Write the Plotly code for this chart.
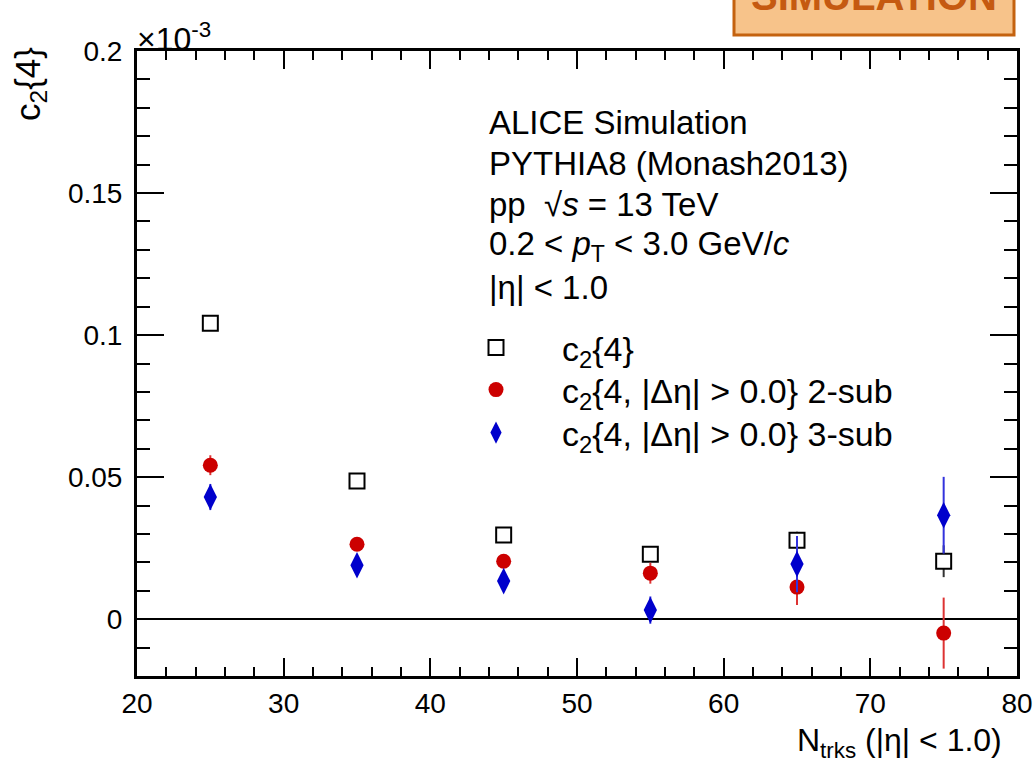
import plotly.graph_objects as go

ntrk = [25, 35, 45, 55, 65, 75]
c24 = [0.1042, 0.0486, 0.0296, 0.0229, 0.0278, 0.0204]
c24_err = [0.0010, 0.0010, 0.0010, 0.0012, 0.0030, 0.0056]
c24_2sub = [0.0542, 0.0264, 0.0204, 0.0162, 0.0113, -0.0049]
c24_2sub_err = [0.0035, 0.0012, 0.0020, 0.0037, 0.0063, 0.0125]
c24_3sub = [0.0430, 0.0190, 0.0134, 0.0032, 0.0194, 0.0366]
c24_3sub_err = [0.0046, 0.0022, 0.0030, 0.0048, 0.0099, 0.0135]

yticks = [0, 0.05, 0.1, 0.15, 0.2]
yticktext = ["0", "0.05", "0.1", "0.15", "0.2"]
xticks = [20, 30, 40, 50, 60, 70, 80]

FONT = "Liberation Sans, Arial, Helvetica, sans-serif"
RED = "#cc0000"
BLUE = "#0000cc"

# paper coord helpers
L, R, T, B = 137, 1017, 51, 676
def px(x): return (x - L) / (R - L)
def py(y): return (B - y) / (B - T)

fig = go.Figure()
fig.add_trace(go.Scatter(
    x=ntrk, y=c24, mode="markers", name="c<sub>2</sub>{4}",
    marker=dict(symbol="square", size=15, color="white", line=dict(color="black", width=2)),
    error_y=dict(type="data", array=c24_err, color="#333333", thickness=2, width=0),
    legend="legend",
))
fig.add_trace(go.Scatter(
    x=ntrk, y=c24_2sub, mode="markers", name="c<sub>2</sub>{4, |Δη| > 0.0} 2-sub",
    marker=dict(symbol="circle", size=15, color=RED),
    error_y=dict(type="data", array=c24_2sub_err, color="#dd3333", thickness=2, width=0),
    legend="legend2",
))
fig.add_trace(go.Scatter(
    x=ntrk, y=c24_3sub, mode="markers", name="c<sub>2</sub>{4, |Δη| > 0.0} 3-sub",
    marker=dict(symbol="diamond-tall", size=19, color=BLUE),
    error_y=dict(type="data", array=c24_3sub_err, color="#3333dd", thickness=2, width=0),
    legend="legend3",
))

axis_common = dict(
    showline=True, linecolor="black", linewidth=3, mirror="allticks",
    ticks="inside", tickcolor="black", tickwidth=2, automargin=False,
    showgrid=False, tickfont=dict(family=FONT, size=28, color="black"),
)
fig.update_xaxes(range=[20, 80], tickvals=xticks, ticklen=18,
                 minor=dict(ticks="inside", dtick=2, ticklen=9, tickwidth=2, tickcolor="black", showgrid=False),
                 zeroline=False, **axis_common)
fig.update_yaxes(range=[-0.02, 0.2], tickvals=yticks, ticktext=yticktext, ticklen=27,
                 ticklabelstandoff=6,
                 minor=dict(ticks="inside", dtick=0.01, tick0=0, ticklen=13, tickwidth=2, tickcolor="black", showgrid=False),
                 zeroline=True, zerolinecolor="black", zerolinewidth=1.5, **axis_common)

annotations = []
info = [
    "ALICE Simulation",
    "PYTHIA8 (Monash2013)",
    "pp  √<i>s</i> = 13 TeV",
    "0.2 < <i>p</i><sub>T</sub> < 3.0 GeV/<i>c</i>",
    "|η| < 1.0",
]
ys = [122, 163, 205, 246, 287]
for t, y in zip(info, ys):
    annotations.append(dict(x=px(487), y=py(y), xref="paper", yref="paper", text=t,
                            showarrow=False, xanchor="left", yanchor="middle",
                            font=dict(family=FONT, size=33, color="black")))
annotations.append(dict(x=px(135), y=py(37), xref="paper", yref="paper", text="×10<sup>-3</sup>",
                        showarrow=False, xanchor="left", yanchor="middle",
                        font=dict(family=FONT, size=32, color="black")))
annotations.append(dict(x=px(30), y=py(84), xref="paper", yref="paper", text="c<sub>2</sub>{4}",
                        showarrow=False, textangle=-90, xanchor="center", yanchor="middle",
                        font=dict(family=FONT, size=35, color="black")))
annotations.append(dict(x=px(1004), y=py(742), xref="paper", yref="paper", text="N<sub>trks</sub> (|η| < 1.0)",
                        showarrow=False, xanchor="right", yanchor="middle",
                        font=dict(family=FONT, size=32, color="black")))
annotations.append(dict(x=px(874), y=py(-4), xref="paper", yref="paper", text="<b>SIMULATION</b>",
                        showarrow=False, xanchor="center", yanchor="middle",
                        font=dict(family=FONT, size=40, color="#c55a11")))

shapes = [dict(type="rect", xref="paper", yref="paper", x0=px(734), x1=px(1014), y0=py(35), y1=py(-20),
               fillcolor="#f7c38a", line=dict(color="#c4620f", width=3), layer="below")]

def leg(y):
    return dict(x=px(430), y=py(y), xanchor="left", yanchor="middle",
                bgcolor="rgba(0,0,0,0)", itemwidth=122,
                font=dict(family=FONT, size=34, color="black"))

fig.update_layout(
    width=1036, height=767,
    margin=dict(l=L, r=1036 - R, t=T, b=767 - B, autoexpand=False),
    paper_bgcolor="white", plot_bgcolor="white",
    font=dict(family=FONT, size=24, color="black"),
    showlegend=True,
    legend=leg(348), legend2=leg(390), legend3=leg(433),
    annotations=annotations, shapes=shapes,
)

fig.write_html("out.html")
